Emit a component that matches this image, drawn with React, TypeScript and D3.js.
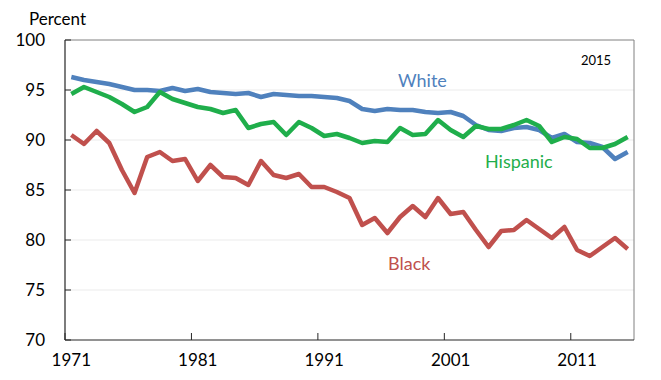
import React from "react";
import * as d3 from "d3";

const years: number[] = d3.range(1971, 2016);

const whiteValues: number[] = [
  96.3, 96.0, 95.8, 95.6, 95.3, 95.0, 95.0, 94.9, 95.2, 94.9,
  95.1, 94.8, 94.7, 94.6, 94.7, 94.3, 94.6, 94.5, 94.4, 94.4,
  94.3, 94.2, 93.9, 93.1, 92.9, 93.1, 93.0, 93.0, 92.8, 92.7,
  92.8, 92.4, 91.5, 91.0, 90.9, 91.2, 91.3, 91.0, 90.2, 90.6,
  89.8, 89.7, 89.3, 88.1, 88.8,
];

const hispanicValues: number[] = [
  94.6, 95.3, 94.8, 94.3, 93.6, 92.8, 93.3, 94.8, 94.1, 93.7,
  93.3, 93.1, 92.7, 93.0, 91.2, 91.6, 91.8, 90.5, 91.8, 91.2,
  90.4, 90.6, 90.2, 89.7, 89.9, 89.8, 91.2, 90.5, 90.6, 92.0,
  91.0, 90.3, 91.4, 91.1, 91.1, 91.5, 92.0, 91.4, 89.8, 90.3,
  90.1, 89.2, 89.2, 89.6, 90.3,
];

const blackValues: number[] = [
  90.5, 89.6, 90.9, 89.7, 87.0, 84.7, 88.3, 88.8, 87.9, 88.1,
  85.9, 87.5, 86.3, 86.2, 85.5, 87.9, 86.5, 86.2, 86.6, 85.3,
  85.3, 84.8, 84.2, 81.5, 82.2, 80.7, 82.3, 83.4, 82.3, 84.2,
  82.6, 82.8, 81.0, 79.3, 80.9, 81.0, 82.0, 81.1, 80.2, 81.3,
  79.0, 78.4, 79.3, 80.2, 79.1,
];

const yTicks: number[] = [70, 75, 80, 85, 90, 95, 100];
const xTickYears: number[] = [1971, 1981, 1991, 2001, 2011];

const seriesNames = ["White", "Hispanic", "Black"];
const seriesColors = ["#4F81BD", "#1FAE4B", "#C0504D"];

const W = 661;
const H = 380;
const left = 65;
const right = 634;
const top = 40;
const bottom = 340;
const FONT = "Lato, 'Open Sans', sans-serif";

export default function App() {
  const x = d3.scaleBand<number>().domain(years).range([left, right]).padding(0);
  const cx = (yr: number) => (x(yr) as number) + x.bandwidth() / 2;
  const y = d3.scaleLinear().domain([70, 100]).range([bottom, top]);

  const line = d3
    .line<number>()
    .x((_, i) => cx(years[i]))
    .y((v) => y(v));

  const allSeries = [whiteValues, hispanicValues, blackValues];

  const labels = [
    { name: seriesNames[0], color: seriesColors[0], x: 398, y: 87 },
    { name: seriesNames[1], color: seriesColors[1], x: 485, y: 168 },
    { name: seriesNames[2], color: seriesColors[2], x: 388, y: 270 },
  ];

  return (
    <svg width={W} height={H} style={{ position: "absolute", left: 0, top: 0 }}>
      <rect x={0} y={0} width={W} height={H} fill="#fff" />
      {/* gridlines */}
      {yTicks
        .filter((t) => t !== 70 && t !== 100)
        .map((t) => (
          <line key={"g" + t} x1={left} x2={right} y1={y(t)} y2={y(t)} stroke="#ebebeb" strokeWidth={1} />
        ))}
      {/* plot border top/right */}
      <line x1={left} x2={right} y1={top} y2={top} stroke="#808080" strokeWidth={1} />
      <line x1={right} x2={right} y1={top} y2={bottom} stroke="#808080" strokeWidth={1} />
      {/* y axis */}
      <line x1={left} x2={left} y1={top} y2={bottom} stroke="#262626" strokeWidth={1.2} />
      {yTicks.map((t) => (
        <g key={"y" + t}>
          <line x1={left} x2={left + 6} y1={y(t)} y2={y(t)} stroke="#262626" strokeWidth={1} />
          <text x={45} y={y(t)} dy="0.35em" textAnchor="end" fontSize={17} fontFamily={FONT} fill="#000">
            {t}
          </text>
        </g>
      ))}
      {/* x axis */}
      <line x1={left} x2={right} y1={bottom} y2={bottom} stroke="#262626" strokeWidth={1.2} />
      {xTickYears.map((yr) => (
        <g key={"x" + yr}>
          <line x1={x(yr) as number} x2={x(yr) as number} y1={bottom - 7} y2={bottom} stroke="#262626" strokeWidth={1} />
          <text x={cx(yr)} y={360} dy="0.35em" textAnchor="middle" fontSize={17} fontFamily={FONT} fill="#000">
            {yr}
          </text>
        </g>
      ))}
      {/* lines */}
      {allSeries.map((vals, i) => (
        <path
          key={seriesNames[i]}
          d={line(vals) || ""}
          fill="none"
          stroke={seriesColors[i]}
          strokeWidth={4.5}
          strokeLinejoin="round"
          strokeLinecap="butt"
        />
      ))}
      {labels.map((l) => (
        <text key={l.name} x={l.x} y={l.y} fontSize={18} fontFamily={FONT} fill={l.color}>
          {l.name}
        </text>
      ))}
      <text x={581} y={65} fontSize={13} fontFamily={FONT} fill="#000">
        2015
      </text>
      <text x={29} y={25} fontSize={17} fontFamily={FONT} fill="#000">
        Percent
      </text>
    </svg>
  );
}
